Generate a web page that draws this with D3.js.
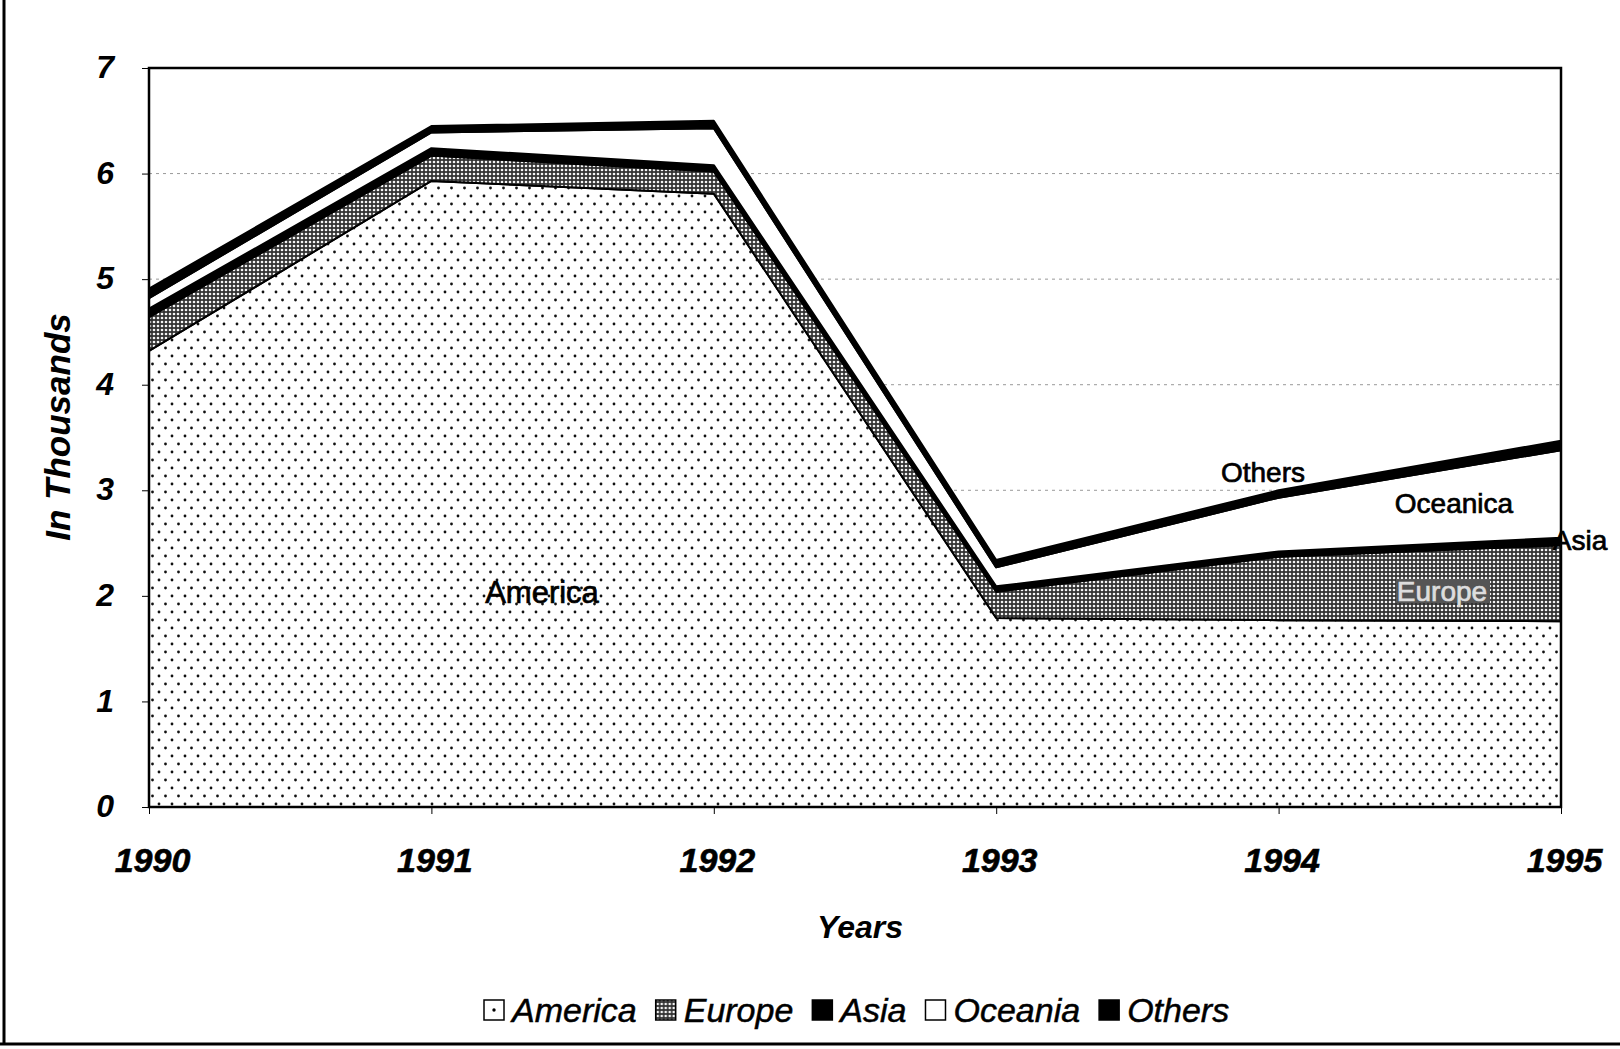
<!DOCTYPE html>
<html>
<head>
<meta charset="utf-8">
<title>In Thousands by region, 1990-1995</title>
<script src="https://d3js.org/d3.v7.min.js"></script>
<style>
  body { margin: 0; background: #fff; }
  svg text { font-family: "Liberation Sans", Arial, sans-serif; }
  .tick text { font-weight: bold; font-style: italic; }
</style>
</head>
<body>
<div id="chart"></div>
<script>
// values (thousands)
var years   = [1990, 1991, 1992, 1993, 1994, 1995];
var america = [4.32, 5.93, 5.81, 1.79, 1.77, 1.76];
var europe  = [0.32, 0.24, 0.21, 0.25, 0.60, 0.72];
var asia    = [0.08, 0.07, 0.06, 0.05, 0.05, 0.07];
var oceania = [0.10, 0.15, 0.35, 0.18, 0.51, 0.83];
var others  = [0.09, 0.06, 0.07, 0.07, 0.07, 0.09];
var seriesNames = ["America", "Europe", "Asia", "Oceania", "Others"];
var yTicks = [0, 1, 2, 3, 4, 5, 6, 7];

var width = 1620, height = 1049;
var plot = {left: 149, right: 1561, top: 68, bottom: 807};

var svg = d3.select("#chart").append("svg")
    .attr("width", width)
    .attr("height", height);

// patterns
var defs = svg.append("defs");
var dots = defs.append("pattern").attr("id", "dots")
    .attr("patternUnits", "userSpaceOnUse").attr("width", 13).attr("height", 16);
dots.append("rect").attr("width", 13).attr("height", 16).attr("fill", "#fff");
dots.append("circle").attr("cx", 3).attr("cy", 4).attr("r", 1.4).attr("fill", "#111");
dots.append("circle").attr("cx", 9.5).attr("cy", 12).attr("r", 1.4).attr("fill", "#111");

var mesh = defs.append("pattern").attr("id", "mesh")
    .attr("patternUnits", "userSpaceOnUse").attr("width", 4).attr("height", 4);
mesh.append("rect").attr("width", 4).attr("height", 4).attr("fill", "#333");
mesh.append("circle").attr("cx", 2).attr("cy", 2).attr("r", 1.3).attr("fill", "#f4f4f4");

var fills = {America: "url(#dots)", Europe: "url(#mesh)", Asia: "#000", Oceania: "#fff", Others: "#000"};

var table = years.map(function(y, i) {
  return {year: y, America: america[i], Europe: europe[i], Asia: asia[i], Oceania: oceania[i], Others: others[i]};
});

var x = d3.scaleLinear().domain([1990, 1995]).range([plot.left, plot.right]);
var y = d3.scaleLinear().domain([0, 7]).range([plot.bottom, plot.top]);

// gridlines
svg.append("g").selectAll("line")
  .data(yTicks.slice(1, -1))
  .enter().append("line")
    .attr("x1", plot.left).attr("x2", plot.right)
    .attr("y1", function(d) { return y(d); })
    .attr("y2", function(d) { return y(d); })
    .attr("stroke", "#999")
    .attr("stroke-width", 1)
    .attr("stroke-dasharray", "3,4");

var stack = d3.stack().keys(seriesNames);
var layers = stack(table);

var area = d3.area()
    .x(function(d) { return x(d.data.year); })
    .y0(function(d) { return y(d[0]); })
    .y1(function(d) { return y(d[1]); });

svg.append("g").selectAll("path")
  .data(layers)
  .enter().append("path")
    .attr("d", area)
    .attr("fill", function(d) { return fills[d.key]; })
    .attr("stroke", "#000")
    .attr("stroke-width", 2)
    .attr("stroke-linejoin", "round");

// plot frame
svg.append("rect")
    .attr("x", plot.left).attr("y", plot.top)
    .attr("width", plot.right - plot.left).attr("height", plot.bottom - plot.top)
    .attr("fill", "none").attr("stroke", "#000").attr("stroke-width", 2.5);

// axes
var xAxis = svg.append("g")
    .attr("transform", "translate(0," + plot.bottom + ")")
    .call(d3.axisBottom(x).tickValues(years).tickFormat(d3.format("d")).tickSize(7).tickPadding(10));
xAxis.select(".domain").remove();
xAxis.selectAll("text").attr("font-size", 34).attr("fill", "#000")
    .attr("dy", null).attr("y", 65).attr("dx", 3)
    .attr("stroke", "#000").attr("stroke-width", 0.6);

var yAxis = svg.append("g")
    .attr("transform", "translate(" + plot.left + ",0)")
    .call(d3.axisLeft(y).tickValues(yTicks).tickFormat(d3.format("d")).tickSize(7).tickPadding(28));
yAxis.select(".domain").remove();
yAxis.selectAll("text").attr("font-size", 32).attr("fill", "#000").attr("dy", "0.3em");

// axis titles
svg.append("text")
    .attr("x", 860).attr("y", 938)
    .attr("text-anchor", "middle")
    .attr("font-size", 32).attr("font-weight", "bold").attr("font-style", "italic")
    .text("Years");

svg.append("text")
    .attr("transform", "translate(70,427) rotate(-90)")
    .attr("text-anchor", "middle")
    .attr("font-size", 35).attr("font-weight", "bold").attr("font-style", "italic")
    .text("In Thousands");

// in-plot labels
svg.append("rect").attr("x", 1396).attr("y", 579).attr("width", 94).attr("height", 24).attr("fill", "#555");
var labels = [
  {t: "America",  x: 542,  y: 592, size: 31, fill: "#000"},
  {t: "Others",   x: 1263, y: 472, size: 28, fill: "#000"},
  {t: "Oceanica", x: 1454, y: 503, size: 28, fill: "#000"},
  {t: "Asia",     x: 1580, y: 540, size: 28, fill: "#000"},
  {t: "Europe",   x: 1442, y: 591, size: 28, fill: "#ddd"}
];
svg.append("g").selectAll("text")
  .data(labels)
  .enter().append("text")
    .attr("x", function(d) { return d.x; })
    .attr("y", function(d) { return d.y; })
    .attr("dy", "0.35em")
    .attr("text-anchor", "middle")
    .attr("font-size", function(d) { return d.size; })
    .attr("fill", function(d) { return d.fill; })
    .attr("stroke", function(d) { return d.fill; })
    .attr("stroke-width", 0.7)
    .text(function(d) { return d.t; });

// legend
var legend = svg.append("g").attr("transform", "translate(484,1010)");
var lx = 0;
seriesNames.forEach(function(name) {
  var g = legend.append("g").attr("transform", "translate(" + lx + ",0)");
  g.append("rect")
      .attr("x", 0).attr("y", -10).attr("width", 20).attr("height", 20)
      .attr("fill", name == "America" ? "#fff" : fills[name])
      .attr("stroke", "#000").attr("stroke-width", 1.5);
  if (name == "America") {
    g.append("circle").attr("cx", 10).attr("cy", 0).attr("r", 1.7).attr("fill", "#000");
  }
  var t = g.append("text")
      .attr("x", 28).attr("y", 0).attr("dy", "0.35em")
      .attr("font-size", 34).attr("font-style", "italic")
      .attr("stroke", "#000").attr("stroke-width", 0.5)
      .text(name);
  lx += 28 + t.node().getComputedTextLength() + 19;
});

// page frame from the scan
svg.append("line").attr("x1", 4).attr("x2", 4).attr("y1", 0).attr("y2", 1045)
    .attr("stroke", "#000").attr("stroke-width", 3);
svg.append("line").attr("x1", 0).attr("x2", width).attr("y1", 1044).attr("y2", 1044)
    .attr("stroke", "#000").attr("stroke-width", 3);
</script>
</body>
</html>
